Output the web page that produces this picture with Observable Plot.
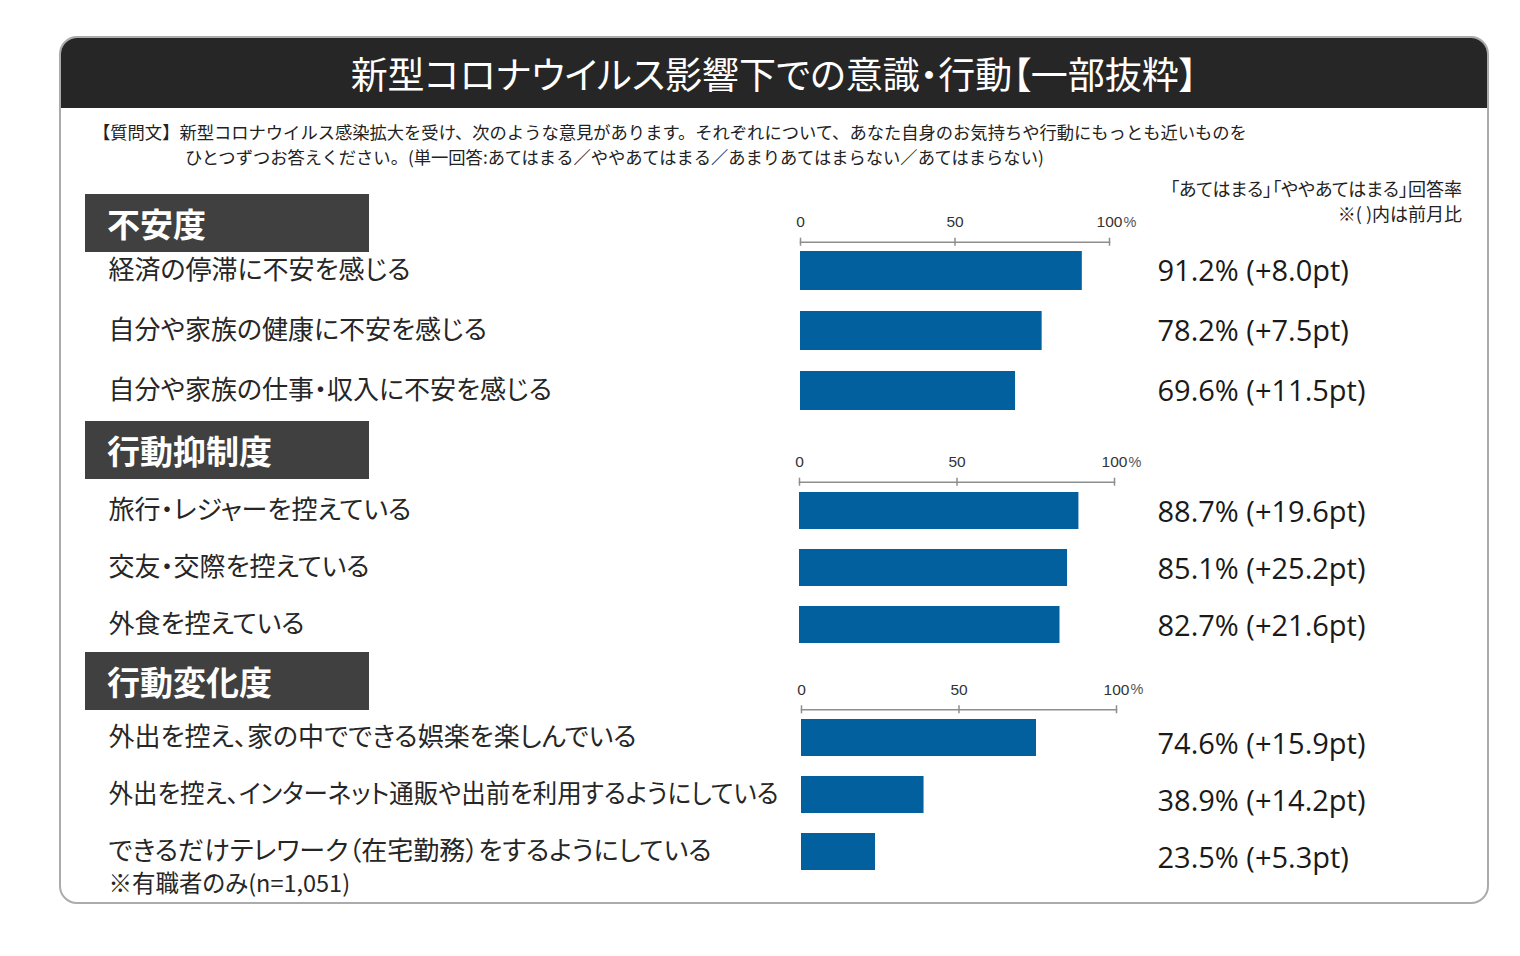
<!DOCTYPE html>
<html><head><meta charset="utf-8">
<script src="https://cdn.jsdelivr.net/npm/d3@7"></script>
<script src="https://cdn.jsdelivr.net/npm/@observablehq/plot@0.6"></script>
<style>
body{margin:0;background:#fff;font-family:"Noto Sans CJK JP",sans-serif;}
#root{position:relative;width:1520px;height:956px;overflow:hidden;}
#panel{position:absolute;left:59px;top:36px;width:1430px;height:868px;border:2px solid #ababab;border-radius:18px;overflow:hidden;box-sizing:border-box;}
#titlebar{position:absolute;left:0;top:0;right:0;height:70px;background:#262626;color:#fff;font-size:37px;text-align:center;line-height:70px;font-feature-settings:"palt";}
.q{position:absolute;font-size:17.3px;color:#222;white-space:nowrap;line-height:22px;}
.note{position:absolute;font-size:18px;color:#222;white-space:nowrap;line-height:22px;text-align:right;right:58px;font-feature-settings:"palt";}
.hdr{position:absolute;left:85px;width:284px;height:58px;background:#404040;color:#fff;font-size:33px;font-weight:bold;line-height:58px;padding-left:22px;box-sizing:border-box;}
.sec{position:absolute;left:0;}
g.lbl, g.lbl text{font-feature-settings:"palt";}
</style></head><body>
<div id="root">
  <div id="panel"><div id="titlebar"></div></div>
</div>
<script>
// ---- data ----
const title = "新型コロナウイルス影響下での意識・行動【一部抜粋】";
const questionLines = [
  "【質問文】新型コロナウイルス感染拡大を受け、次のような意見があります。それぞれについて、あなた自身のお気持ちや行動にもっとも近いものを",
  "ひとつずつお答えください。(単一回答:あてはまる／ややあてはまる／あまりあてはまらない／あてはまらない)"
];
const noteLines = ["「あてはまる」「ややあてはまる」回答率", "※( )内は前月比"];
const sectionNames = ["不安度", "行動抑制度", "行動変化度"];

const anxietyItems = ["経済の停滞に不安を感じる", "自分や家族の健康に不安を感じる", "自分や家族の仕事・収入に不安を感じる"];
const anxietyValues = [91.2, 78.2, 69.6];
const anxietyChanges = [8.0, 7.5, 11.5];

const restraintItems = ["旅行・レジャーを控えている", "交友・交際を控えている", "外食を控えている"];
const restraintValues = [88.7, 85.1, 82.7];
const restraintChanges = [19.6, 25.2, 21.6];

const changeItems = ["外出を控え、家の中でできる娯楽を楽しんでいる", "外出を控え、インターネット通販や出前を利用するようにしている", "できるだけテレワーク（在宅勤務）をするようにしている"];
const changeValues = [74.6, 38.9, 23.5];
const changeChanges = [15.9, 14.2, 5.3];
const changeNotes = ["", "", "※有職者のみ(n=1,051)"];

const tickValues = [0, 50, 100];
const tickUnit = "%";

// ---- layout (positions / sizes only) ----
const layout = [
  {top: 194, x0: 800, x1: 1109, axisY: 47.7, yRange: [45.9, 226.6], height: 250, valueDy: 1},
  {top: 421, x0: 799, x1: 1114, axisY: 60.7, yRange: [60.4, 232.2], height: 250, valueDy: 2},
  {top: 652, x0: 801, x1: 1116, axisY: 57.3, yRange: [56.75, 229.25], height: 250, valueDy: 7}
];
const W = 1520, labelX = 108, valueX = 1157, labelMaxW = 670;
const barColor = "#03609e";

const sections = [
  {items: anxietyItems, values: anxietyValues, changes: anxietyChanges, notes: []},
  {items: restraintItems, values: restraintValues, changes: restraintChanges, notes: []},
  {items: changeItems, values: changeValues, changes: changeChanges, notes: changeNotes}
];

const root = document.getElementById("root");
document.getElementById("titlebar").textContent = title;

const q1 = document.createElement("div"); q1.className = "q"; q1.style.left = "93px"; q1.style.top = "121px"; q1.textContent = questionLines[0]; root.appendChild(q1);
const q2 = document.createElement("div"); q2.className = "q"; q2.style.left = "185px"; q2.style.top = "146px"; q2.textContent = questionLines[1]; root.appendChild(q2);
noteLines.forEach((t, i) => {
  const n = document.createElement("div"); n.className = "note"; n.style.top = (177 + i * 25) + "px"; n.textContent = t; root.appendChild(n);
});

sections.forEach((s, si) => {
  const L = layout[si];
  const data = s.items.map((item, i) => ({
    item, value: s.values[i], change: s.changes[i], note: s.notes[i] || ""
  }));
  const hdr = document.createElement("div");
  hdr.className = "hdr"; hdr.style.top = L.top + "px"; hdr.textContent = sectionNames[si];
  root.appendChild(hdr);

  const fb = L.height - L.axisY;
  const chart = Plot.plot({
    width: W, height: L.height,
    marginTop: L.axisY, marginBottom: 0, marginLeft: L.x0, marginRight: W - L.x1,
    style: {background: "transparent", fontFamily: "'Noto Sans CJK JP', sans-serif", overflow: "visible"},
    x: {domain: [0, 100], axis: null},
    y: {domain: s.items, range: L.yRange, paddingInner: 0.35, paddingOuter: 0.175, axis: null},
    marks: [
      Plot.frame({anchor: "top", stroke: "#8e8e8e", strokeWidth: 1.5}),
      Plot.ruleX(tickValues, {x: d => d, stroke: "#8e8e8e", strokeWidth: 1.5, insetTop: -4, insetBottom: fb - 4}),
      Plot.text(tickValues, {x: d => d, text: d => String(d), frameAnchor: "top", lineAnchor: "middle", dy: -20, fontSize: 15.5, fontFamily: "'Liberation Sans', Arial, sans-serif", fill: "#333"}),
      Plot.text([100], {x: d => d, text: () => tickUnit, frameAnchor: "top", lineAnchor: "middle", dy: -20, dx: 14, textAnchor: "start", fontSize: 14.5, fontFamily: "'Liberation Sans', Arial, sans-serif", fill: "#555"}),
      Plot.barX(data, {x1: 0, x2: "value", y: "item", fill: barColor}),
      Plot.text(data, {y: "item", text: "item", frameAnchor: "left", textAnchor: "start", dx: labelX - L.x0, fontSize: 26, fill: "#262626", className: "lbl"}),
      Plot.text(data.filter(d => d.note), {y: "item", text: "note", frameAnchor: "left", textAnchor: "start", dx: labelX - L.x0, dy: 32, fontSize: 23.5, fill: "#262626", className: "lbl"}),
      Plot.text(data, {y: "item", text: d => `${d.value.toFixed(1)}% (+${d.change.toFixed(1)}pt)`, frameAnchor: "right", textAnchor: "start", dx: valueX - L.x1, dy: L.valueDy, fontSize: 29, fontFamily: "'Open Sans', sans-serif", fill: "#1a1a1a"})
    ]
  });
  const wrap = document.createElement("div");
  wrap.className = "sec"; wrap.style.top = L.top + "px";
  wrap.appendChild(chart);
  root.appendChild(wrap);
  // condense labels that would run into the bars (as the original's narrow font does)
  chart.querySelectorAll("g.lbl text").forEach(t => {
    if (t.getComputedTextLength() > labelMaxW) {
      t.setAttribute("textLength", labelMaxW);
      t.setAttribute("lengthAdjust", "spacingAndGlyphs");
    }
  });
});
</script>
</body></html>
